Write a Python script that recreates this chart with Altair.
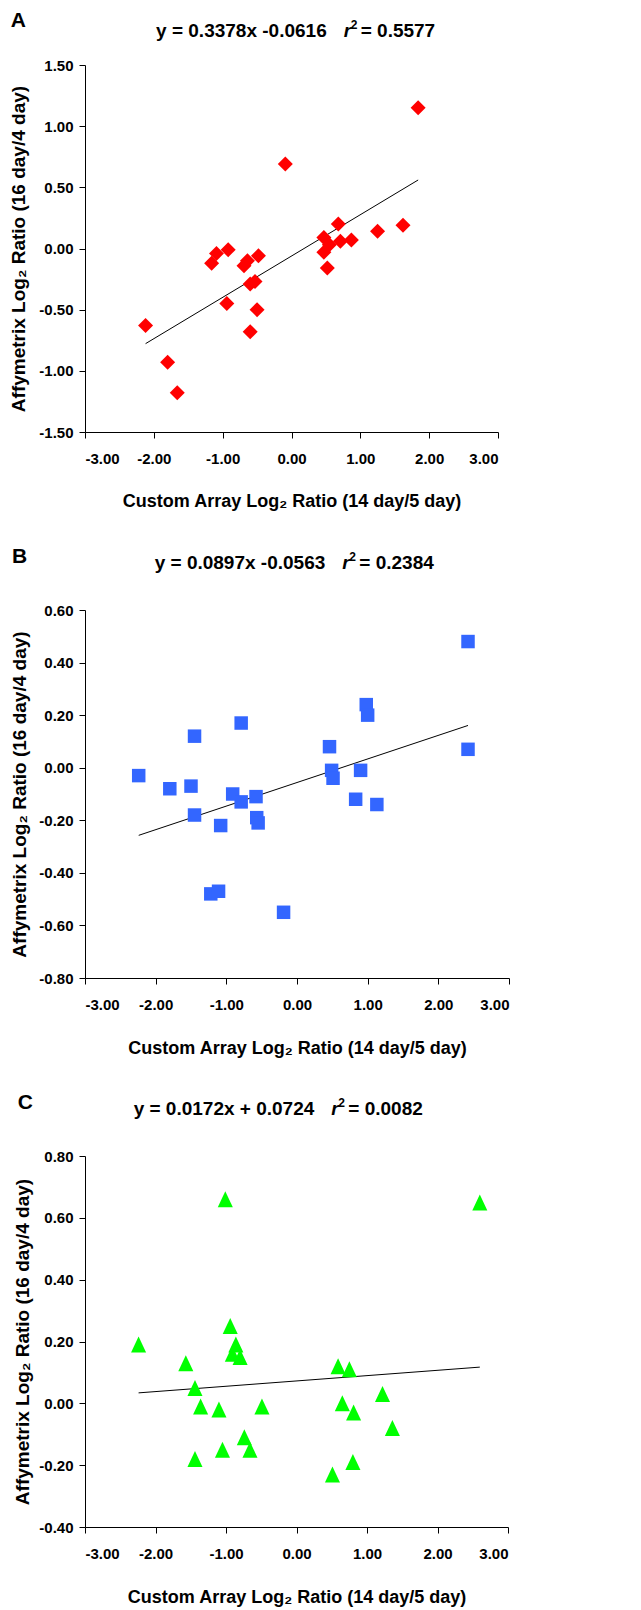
import altair as alt
import pandas as pd

# ---------------- data ----------------
x_ticks = [-3, -2, -1, 0, 1, 2, 3]

# Panel A
a_x = [1.84, -0.09, 0.68, 1.62, 1.25, 0.47, 0.55, 0.71, 0.87, 0.47, 0.52, -0.92, -1.09,
       -1.16, -0.64, -0.69, -0.48, -0.60, -0.53, -0.94, -0.50, -2.12, -0.60, -1.80, -1.66]
a_y = [1.15, 0.69, 0.20, 0.19, 0.14, 0.09, 0.03, 0.06, 0.07, -0.03, -0.16, -0.01, -0.04,
       -0.12, -0.10, -0.14, -0.06, -0.29, -0.27, -0.45, -0.50, -0.63, -0.68, -0.93, -1.18]
a_fit = (0.3378, -0.0616)
a_yticks = [-1.5, -1.0, -0.5, 0.0, 0.5, 1.0, 1.5]
a_eq = "y = 0.3378x -0.0616"
a_r2 = "= 0.5577"

# Panel B
b_x = [2.42, 0.98, 1.00, -0.79, -1.45, 0.46, 2.42, -2.24, 0.49, 0.51, 0.90, -1.80, -1.50,
       -0.91, -0.79, -0.58, 0.83, 1.13, -1.45, -1.08, -0.57, -0.55, -1.22, -1.11, -0.19]
b_y = [0.48, 0.24, 0.20, 0.17, 0.12, 0.08, 0.07, -0.03, -0.01, -0.04, -0.01, -0.08, -0.07,
       -0.10, -0.13, -0.11, -0.12, -0.14, -0.18, -0.22, -0.19, -0.21, -0.48, -0.47, -0.55]
b_fit = (0.0897, -0.0563)
b_yticks = [-0.8, -0.6, -0.4, -0.2, 0.0, 0.2, 0.4, 0.6]
b_eq = "y = 0.0897x -0.0563"
b_r2 = "= 0.2384"

# Panel C
c_x = [-1.01, 2.60, -0.94, -2.24, -0.86, -0.91, -0.80, -1.57, 0.59, 0.75, -1.44, 1.22,
       -1.36, -0.49, 0.65, -1.10, 0.81, 1.36, -0.74, -0.66, -1.05, -1.44, 0.80, 0.51]
c_y = [0.66, 0.65, 0.25, 0.19, 0.19, 0.16, 0.15, 0.13, 0.12, 0.11, 0.05, 0.03,
       -0.01, -0.01, 0.00, -0.02, -0.03, -0.08, -0.11, -0.15, -0.15, -0.18, -0.19, -0.23]
c_fit = (0.0172, 0.0724)
c_yticks = [-0.4, -0.2, 0.0, 0.2, 0.4, 0.6, 0.8]
c_eq = "y = 0.0172x + 0.0724"
c_r2 = "= 0.0082"

x_title = "Custom Array Log\u2082 Ratio (14 day/5 day)"
y_title = "Affymetrix Log\u2082 Ratio (16 day/4 day)"

FONT = "Liberation Sans"
LABEL_EXPR = "replace(format(datum.value, '.2f'), '\u2212', '-')"


def txt(s, x, y, size, align="left", style="normal", baseline="alphabetic"):
    return alt.Chart(pd.DataFrame({"t": [s]})).mark_text(
        font=FONT, fontSize=size, fontWeight="bold", fontStyle=style,
        align=align, baseline=baseline, color="black"
    ).encode(x=alt.value(x), y=alt.value(y), text="t:N")


def panel(xs, ys, fit, yticks, eq, r2, letter, shape, size, color,
          width, height, lay):
    df = pd.DataFrame({"x": xs, "y": ys})
    lx = [min(xs), max(xs)]
    ldf = pd.DataFrame({"x": lx, "y": [fit[0] * v + fit[1] for v in lx]})
    xs_ = alt.Scale(domain=[x_ticks[0], x_ticks[-1]], nice=False, zero=False)
    ys_ = alt.Scale(domain=[yticks[0], yticks[-1]], nice=False, zero=False)
    xaxis = alt.Axis(values=x_ticks, labelExpr=LABEL_EXPR, grid=False,
                     domainColor="black", tickColor="black", tickSize=6,
                     labelFont=FONT, labelFontSize=15, labelFontWeight="bold",
                     labelColor="black", labelPadding=13,
                     title=x_title, titleFont=FONT, titleFontSize=18,
                     titleFontWeight="bold", titleColor="black",
                     titleBaseline="alphabetic", titleY=lay["xty"], titleX=width / 2)
    yaxis = alt.Axis(values=yticks, labelExpr=LABEL_EXPR, grid=False,
                     domainColor="black", tickColor="black", tickSize=6,
                     labelFont=FONT, labelFontSize=15, labelFontWeight="bold",
                     labelColor="black", labelPadding=6,
                     title=y_title, titleFont=FONT, titleFontSize=19,
                     titleFontWeight="bold", titleColor="black",
                     titleBaseline="alphabetic", titleX=lay["ytx"], titleY=height / 2,
                     titleAngle=270)
    pts = alt.Chart(df).mark_point(filled=True, shape=shape, size=size,
                                   color=color, opacity=1).encode(
        x=alt.X("x:Q", scale=xs_, axis=xaxis),
        y=alt.Y("y:Q", scale=ys_, axis=yaxis))
    line = alt.Chart(ldf).mark_line(color="black", strokeWidth=1).encode(
        x=alt.X("x:Q", scale=xs_), y=alt.Y("y:Q", scale=ys_))
    e = lay["eqx"]
    tb = lay["tby"]
    texts = [
        txt(letter, lay["lx"], lay["ly"], 21),
        txt(eq, e, tb, 19, align="right"),
        txt("r", e + 17, tb, 19, style="italic"),
        txt("2", e + 24, tb - 8, 12),
        txt(r2, e + 34, tb, 19),
    ]
    return alt.layer(line, pts, *texts).properties(width=width, height=height)


A = panel(a_x, a_y, a_fit, a_yticks, a_eq, a_r2, "A", "diamond", 225, "#FF0000",
          413, 367, dict(xty=74, ytx=-61, eqx=241.7, tby=-28.3, lx=-74.3, ly=-37.7))
B = panel(b_x, b_y, b_fit, b_yticks, b_eq, b_r2, "B", "square", 182, "#3366FF",
          424, 368, dict(xty=75, ytx=-60, eqx=240.3, tby=-40.7, lx=-73, ly=-47.3))
C = panel(c_x, c_y, c_fit, c_yticks, c_eq, c_r2, "C", "M0,-1L0.94,1L-0.94,1Z", 256,
          "#00FF00", 423, 371, dict(xty=75, ytx=-56.3, eqx=229.3, tby=-40.7,
                                    lx=-67.3, ly=-47.3))

chart = alt.vconcat(A, B, C, spacing=178, bounds="flush").properties(
    padding={"left": 0, "top": 2, "right": 5, "bottom": 5},
    background="white"
).configure_view(stroke="transparent", strokeWidth=0)

chart.save("out.html", embed_options={"renderer": "svg", "actions": False})
